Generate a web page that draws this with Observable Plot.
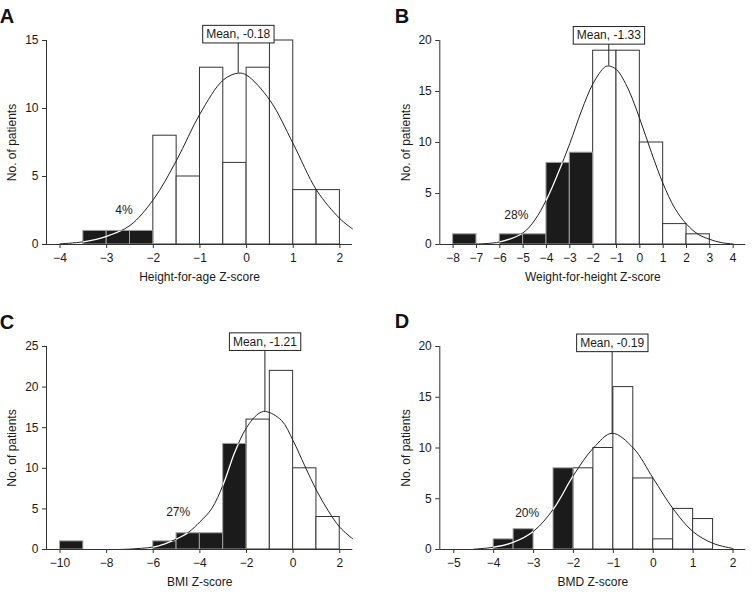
<!DOCTYPE html>
<html><head><meta charset="utf-8">
<script src="https://cdn.jsdelivr.net/npm/d3@7"></script>
<script src="https://cdn.jsdelivr.net/npm/@observablehq/plot@0.6"></script>
<style>
body{margin:0;background:#fff}
#wrap{position:relative;width:753px;height:593px;overflow:hidden;background:#fff}
.panel{position:absolute}
</style>
</head><body><div id="wrap"></div>
<script>
// ---------- DATA ----------
const CUTOFF = -2; // bars ending at or below -2 are shaded

// Panel A: Height-for-age
const aBinStart = [-3.5,-3,-2.5,-2,-1.5,-1,-0.5,0,0.5,1,1.5];
const aBinWidth = 0.5;
const aCounts = [1,1,1,8,5,13,6,13,15,4,4];
const aCurveX = [-4,-3.5,-3,-2.5,-2,-1.5,-1,-0.5,-0.18,0,0.5,1,1.5,2,2.27];
const aCurveY = [0.05,0.2,0.6,1.4,3.3,6.2,9.6,12.1,12.6,12.45,10.6,7.4,4.0,1.9,1.15];
const aXTicks = [-4,-3,-2,-1,0,1,2];
const aYTicks = [0,5,10,15];
const aMeanX = -0.18, aMeanLabel = "Mean, -0.18";
const aPct = "4%", aPctX = -2.63, aPctY = 2.5;
const aXTitle = "Height-for-age Z-score";

// Panel B: Weight-for-height
const bBinStart = [-8,-7,-6,-5,-4,-3,-2,-1,0,1,2];
const bBinWidth = 1;
const bCounts = [1,0,1,1,8,9,19,19,10,2,1];
const bCurveX = [-7,-6,-5,-4.5,-4,-3.5,-3,-2.5,-2,-1.5,-1.33,-1,-0.5,0,0.5,1,1.5,2,2.5,3,3.5,4];
const bCurveY = [0.05,0.25,1.15,2.4,4.4,7.0,9.9,13.1,15.8,17.4,17.5,17.15,15.25,12.3,9.0,5.95,3.55,2.0,1.0,0.5,0.18,0.05];
const bXTicks = [-8,-7,-6,-5,-4,-3,-2,-1,0,1,2,3,4];
const bYTicks = [0,5,10,15,20];
const bMeanX = -1.33, bMeanLabel = "Mean, -1.33";
const bPct = "28%", bPctX = -5.29, bPctY = 2.9;
const bXTitle = "Weight-for-height Z-score";

// Panel C: BMI
const cBinStart = [-10,-9,-8,-7,-6,-5,-4,-3,-2,-1,0,1];
const cBinWidth = 1;
const cCounts = [1,0,0,0,1,2,2,13,16,22,10,4];
const cCurveX = [-7.5,-7,-6.5,-6,-5.5,-5,-4.5,-4,-3.5,-3,-2.5,-2,-1.5,-1.18,-0.5,0,0.5,1,1.5,2,2.56];
const cCurveY = [0,0.05,0.15,0.3,0.7,1.3,2.1,3.4,5.0,8.0,12.0,15.0,16.7,17.0,15.9,13.4,10.3,7.3,4.8,2.75,1.3];
const cXTicks = [-10,-8,-6,-4,-2,0,2];
const cYTicks = [0,5,10,15,20,25];
const cMeanX = -1.21, cMeanLabel = "Mean, -1.21";
const cPct = "27%", cPctX = -4.93, cPctY = 4.6;
const cXTitle = "BMI Z-score";

// Panel D: BMD
const dBinStart = [-4,-3.5,-3,-2.5,-2,-1.5,-1,-0.5,0,0.5,1];
const dBinWidth = 0.5;
const dCounts = [1,2,0,8,8,10,16,7,1,4,3];
const dCurveX = [-4.5,-4,-3.5,-3,-2.5,-2,-1.5,-1.03,-0.5,0,0.5,1,1.5,2];
const dCurveY = [0.03,0.23,0.72,1.8,4.0,7.3,10.0,11.45,10.0,7.0,4.0,1.75,0.6,0.1];
const dXTicks = [-5,-4,-3,-2,-1,0,1,2];
const dYTicks = [0,5,10,15,20];
const dMeanX = -1.03, dMeanLabel = "Mean, -0.19";
const dPct = "20%", dPctX = -3.16, dPctY = 3.6;
const dXTitle = "BMD Z-score";

const yTitle = "No. of patients";

// ---------- LAYOUT / STYLE ----------
const FONT = '"Liberation Sans", Arial, Helvetica, sans-serif';
const FS = 12;
const panels = [
  {id:"A", left:0, top:0, width:376, height:295, mL:46, mR:24, mT:40, mB:51, xDomain:[-4.29,2.27],
   letterX:7, letterY:23.3, meanDy:-6.2, yTitleDx:-34,
   binStart:aBinStart, binWidth:aBinWidth, counts:aCounts, curveX:aCurveX, curveY:aCurveY,
   xTicks:aXTicks, yTicks:aYTicks, meanX:aMeanX, meanLabel:aMeanLabel, pct:aPct, pctX:aPctX, pctY:aPctY, xTitle:aXTitle},
  {id:"B", left:376, top:0, width:377, height:295, mL:63.3, mR:7.7, mT:40, mB:51, xDomain:[-8.57,4.54],
   letterX:26, letterY:23.3, meanDy:-5, yTitleDx:-33.3,
   binStart:bBinStart, binWidth:bBinWidth, counts:bCounts, curveX:bCurveX, curveY:bCurveY,
   xTicks:bXTicks, yTicks:bYTicks, meanX:bMeanX, meanLabel:bMeanLabel, pct:bPct, pctX:bPctX, pctY:bPctY, xTitle:bXTitle},
  {id:"C", left:0, top:295, width:376, height:298, mL:46, mR:23.7, mT:51, mB:44, xDomain:[-10.58,2.56],
   letterX:7, letterY:34, meanDy:-4.7, yTitleDx:-34,
   binStart:cBinStart, binWidth:cBinWidth, counts:cCounts, curveX:cCurveX, curveY:cCurveY,
   xTicks:cXTicks, yTicks:cYTicks, meanX:cMeanX, meanLabel:cMeanLabel, pct:cPct, pctX:cPctX, pctY:cPctY, xTitle:cXTitle},
  {id:"D", left:376, top:295, width:377, height:298, mL:63.3, mR:7.7, mT:51, mB:44, xDomain:[-5.35,2.32],
   letterX:26, letterY:33.3, meanDy:-3.5, yTitleDx:-33.3,
   binStart:dBinStart, binWidth:dBinWidth, counts:dCounts, curveX:dCurveX, curveY:dCurveY,
   xTicks:dXTicks, yTicks:dYTicks, meanX:dMeanX, meanLabel:dMeanLabel, pct:dPct, pctX:dPctX, pctY:dPctY, xTitle:dXTitle}
];

const NS = "http://www.w3.org/2000/svg";
const wrap = document.getElementById("wrap");
const fmt = d3.format("d");

for (const p of panels) {
  const bars = p.binStart.map((s,i)=>({x1:s, x2:s+p.binWidth, n:p.counts[i]})).filter(d=>d.n>0);
  const open = bars.filter(d=>d.x2 > CUTOFF);
  const shaded = bars.filter(d=>d.x2 <= CUTOFF);
  const curve = p.curveX.map((x,i)=>({x, y:p.curveY[i]}));
  const peak = d3.max(p.curveY);
  const yMax = d3.max(p.yTicks);

  const svg = Plot.plot({
    width:p.width, height:p.height,
    marginLeft:p.mL, marginRight:p.mR, marginTop:p.mT, marginBottom:p.mB,
    x:{domain:p.xDomain},
    y:{domain:[0,yMax]},
    style:{fontFamily:FONT, fontSize:"12px", color:"#1a1a1a", background:"white", overflow:"visible"},
    marks:[
      Plot.rect(open, {x1:"x1", x2:"x2", y1:0, y2:"n", fill:"white", stroke:"#333", strokeWidth:1}),
      Plot.rect(shaded, {x1:"x1", x2:"x2", y1:0, y2:"n", fill:"#1b1b1b", stroke:"#a0a0a0", strokeWidth:1, ariaDescription:"shaded-bars"}),
      Plot.line(curve, {x:"x", y:"y", curve:"catmull-rom", stroke:"#222", strokeWidth:1}),
      Plot.line(curve, {x:"x", y:"y", curve:"catmull-rom", stroke:"white", strokeWidth:1.3, ariaDescription:"curve-white"}),
      Plot.ruleX([p.meanX], {y1:peak, y2:yMax, stroke:"#222", strokeWidth:1}),
      Plot.ruleY([0], {stroke:"#333", strokeWidth:1}),
      Plot.ruleX([p.xDomain[0]], {y1:0, y2:yMax, stroke:"#333", strokeWidth:1}),
      Plot.axisX({ticks:p.xTicks, tickFormat:fmt, tickSize:4, tickPadding:5, label:null, stroke:"#333", fill:"#1a1a1a", fontSize:FS}),
      Plot.axisY({ticks:p.yTicks, tickFormat:fmt, tickSize:4, tickPadding:4, label:null, stroke:"#333", fill:"#1a1a1a", fontSize:FS}),
      Plot.text([p.pct], {x:[p.pctX], y:[p.pctY], text:d=>d, fill:"#1a1a1a", fontSize:FS, textAnchor:"middle", lineAnchor:"middle"}),
      Plot.text([p.meanLabel], {x:[p.meanX], y:[yMax], text:d=>d, dy:p.meanDy, fill:"#1a1a1a", fontSize:FS, textAnchor:"middle", lineAnchor:"middle", ariaDescription:"mean-label"}),
      Plot.text([p.xTitle], {frameAnchor:"bottom", dy:32.5, text:d=>d, fontSize:FS, textAnchor:"middle", lineAnchor:"middle", fill:"#1a1a1a"}),
      Plot.text([yTitle], {frameAnchor:"left", dx:p.yTitleDx, rotate:-90, text:d=>d, fontSize:FS, textAnchor:"middle", lineAnchor:"middle", fill:"#1a1a1a"})
    ]
  });

  const div = document.createElement("div");
  div.className = "panel";
  div.style.left = p.left + "px";
  div.style.top = p.top + "px";
  div.appendChild(svg);
  wrap.appendChild(div);

  // clip the white curve to the shaded bars
  const defs = document.createElementNS(NS, "defs");
  const clip = document.createElementNS(NS, "clipPath");
  clip.setAttribute("id", "clip" + p.id);
  clip.setAttribute("clipPathUnits", "userSpaceOnUse");
  const sg = svg.querySelector('g[aria-description="shaded-bars"]');
  if (sg) {
    const gt = sg.getAttribute("transform") || "";
    sg.querySelectorAll("rect").forEach(r => {
      const c = r.cloneNode();
      const rt = r.getAttribute("transform") || "";
      if (gt || rt) c.setAttribute("transform", (gt + " " + rt).trim());
      clip.appendChild(c);
    });
  }
  defs.appendChild(clip);
  svg.insertBefore(defs, svg.firstChild);
  const wg = svg.querySelector('g[aria-description="curve-white"]');
  if (wg) {
    const wrapper = document.createElementNS(NS, "g");
    wg.parentNode.insertBefore(wrapper, wg);
    wrapper.appendChild(wg);
    wrapper.setAttribute("clip-path", `url(#clip${p.id})`);
  }

  // box around the mean label
  const tg = svg.querySelector('g[aria-description="mean-label"]');
  if (tg) {
    const t = tg.querySelector("text");
    const bb = t.getBBox();
    const r = document.createElementNS(NS, "rect");
    r.setAttribute("x", bb.x - 3.5);
    r.setAttribute("y", bb.y - 1.8);
    r.setAttribute("width", bb.width + 7);
    r.setAttribute("height", bb.height + 3.6);
    r.setAttribute("fill", "white");
    r.setAttribute("stroke", "#222");
    r.setAttribute("stroke-width", "1");
    const tt = t.getAttribute("transform");
    if (tt) r.setAttribute("transform", tt);
    tg.insertBefore(r, t);
  }

  // panel letter
  const L = document.createElementNS(NS, "text");
  L.setAttribute("x", p.letterX);
  L.setAttribute("y", p.letterY);
  L.setAttribute("font-family", FONT);
  L.setAttribute("font-size", "20");
  L.setAttribute("font-weight", "bold");
  L.setAttribute("fill", "#111");
  L.textContent = p.id;
  svg.appendChild(L);
}
</script>
</body></html>
